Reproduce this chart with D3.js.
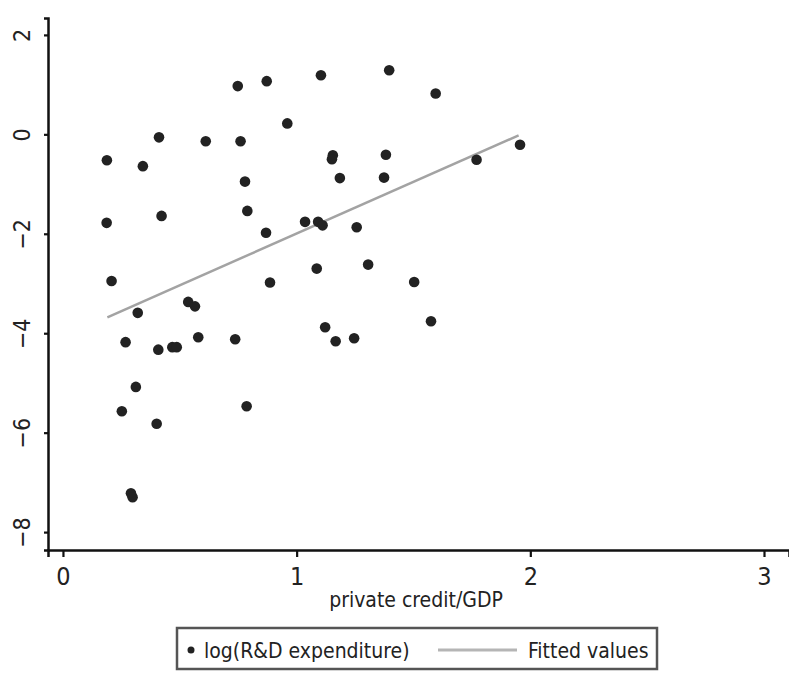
<!DOCTYPE html>
<html>
<head>
<meta charset="utf-8">
<script src="https://cdn.jsdelivr.net/npm/d3@7"></script>
<style>
  html, body { margin: 0; padding: 0; background: #fff; }
  svg { display: block; }
  text { font-family: "DejaVu Sans Condensed", "Liberation Sans Narrow", "Liberation Sans", sans-serif; fill: #222; }
</style>
</head>
<body>
<svg id="chart" width="789" height="675"></svg>
<script>
// ---- data ----
const creditGDP = [
  0.188, 0.342, 0.411, 0.611, 0.760, 0.748, 0.872, 1.104, 1.396, 1.595,
  0.960, 1.155, 1.151, 1.382, 1.770, 1.956, 0.779, 1.185, 1.374, 0.187,
  0.422, 0.789, 1.036, 1.092, 1.111, 1.257, 0.869, 0.208, 0.886, 1.086,
  1.306, 1.503, 0.536, 0.565, 0.320, 1.122, 1.575, 0.268, 0.408, 0.468,
  0.487, 0.579, 0.737, 1.167, 1.246, 0.312, 0.252, 0.401, 0.786, 0.291,
  0.298
];
const logRD = [
  -0.52, -0.64, -0.06, -0.14, -0.14, 0.97, 1.07, 1.19, 1.29, 0.82,
  0.22, -0.42, -0.50, -0.41, -0.51, -0.21, -0.95, -0.88, -0.87, -1.78,
  -1.64, -1.54, -1.76, -1.76, -1.83, -1.87, -1.98, -2.95, -2.98, -2.70,
  -2.62, -2.97, -3.37, -3.46, -3.59, -3.88, -3.76, -4.18, -4.33, -4.28,
  -4.28, -4.08, -4.12, -4.16, -4.10, -5.08, -5.57, -5.82, -5.47, -7.22,
  -7.30
];
const fitX = [0.19, 1.95];
const fitY = [-3.68, -0.02];
const xTicks = [0, 1, 2, 3];
const yTicks = [-8, -6, -4, -2, 0, 2];
const xTitle = "private credit/GDP";
const legendLabels = ["log(R&D expenditure)", "Fitted values"];

// ---- layout ----
const svg = d3.select("#chart");
const x = d3.scaleLinear().domain([-0.064, 3.107]).range([48, 789]);
const y = d3.scaleLinear().domain([-8.36, 2.34]).range([550, 18]);

// fitted line
const pts = fitX.map((v, i) => [v, fitY[i]]);
svg.append("path")
  .datum(pts)
  .attr("d", d3.line().x(d => x(d[0])).y(d => y(d[1])))
  .attr("fill", "none")
  .attr("stroke", "#a3a3a3")
  .attr("stroke-width", 2.5);

// points
svg.append("g").selectAll("circle")
  .data(creditGDP.map((v, i) => [v, logRD[i]]))
  .join("circle")
  .attr("cx", d => x(d[0]))
  .attr("cy", d => y(d[1]))
  .attr("r", 5.3)
  .attr("fill", "#222");

// x axis
const gx = svg.append("g")
  .attr("transform", `translate(0,${y(-8.36)})`)
  .call(d3.axisBottom(x).tickValues(xTicks).tickFormat(d3.format("d")).tickSizeOuter(0).tickSize(7).tickPadding(10));
gx.select(".domain").attr("stroke", "#111").attr("stroke-width", 2.5);
gx.selectAll(".tick line").attr("stroke", "#111").attr("stroke-width", 2.2);
gx.selectAll(".tick text").attr("font-size", 25).attr("font-family", null).attr("fill", "#222");

// y axis
const gy = svg.append("g")
  .attr("transform", `translate(${x(-0.064)},0)`)
  .call(d3.axisLeft(y).tickValues(yTicks).tickFormat(d3.format("d")).tickSizeOuter(0).tickSize(4).tickPadding(0));
gy.select(".domain").attr("stroke", "#111").attr("stroke-width", 2.5);
gy.selectAll(".tick line").attr("stroke", "#111").attr("stroke-width", 2.2);
gy.selectAll(".tick text")
  .attr("font-size", 23)
  .attr("font-family", null)
  .attr("fill", "#333")
  .attr("x", null).attr("dy", null)
  .attr("text-anchor", "middle")
  .attr("transform", "translate(-26,0) rotate(-90)")
  .attr("dy", "0.35em");

// x title
svg.append("text")
  .attr("x", 416).attr("y", 607)
  .attr("text-anchor", "middle")
  .attr("font-size", 21)
  .text(xTitle);

// legend
const lg = svg.append("g");
lg.append("rect")
  .attr("x", 177).attr("y", 628).attr("width", 480).attr("height", 41)
  .attr("fill", "#fff").attr("stroke", "#555").attr("stroke-width", 2.5);
lg.append("circle").attr("cx", 191).attr("cy", 650).attr("r", 3.5).attr("fill", "#222");
lg.append("text").attr("x", 204).attr("y", 658).attr("font-size", 21).text(legendLabels[0]);
lg.append("line").attr("x1", 438).attr("x2", 517).attr("y1", 650).attr("y2", 650)
  .attr("stroke", "#b5b5b5").attr("stroke-width", 3);
lg.append("text").attr("x", 528).attr("y", 658).attr("font-size", 21).text(legendLabels[1]);
</script>
</body>
</html>
